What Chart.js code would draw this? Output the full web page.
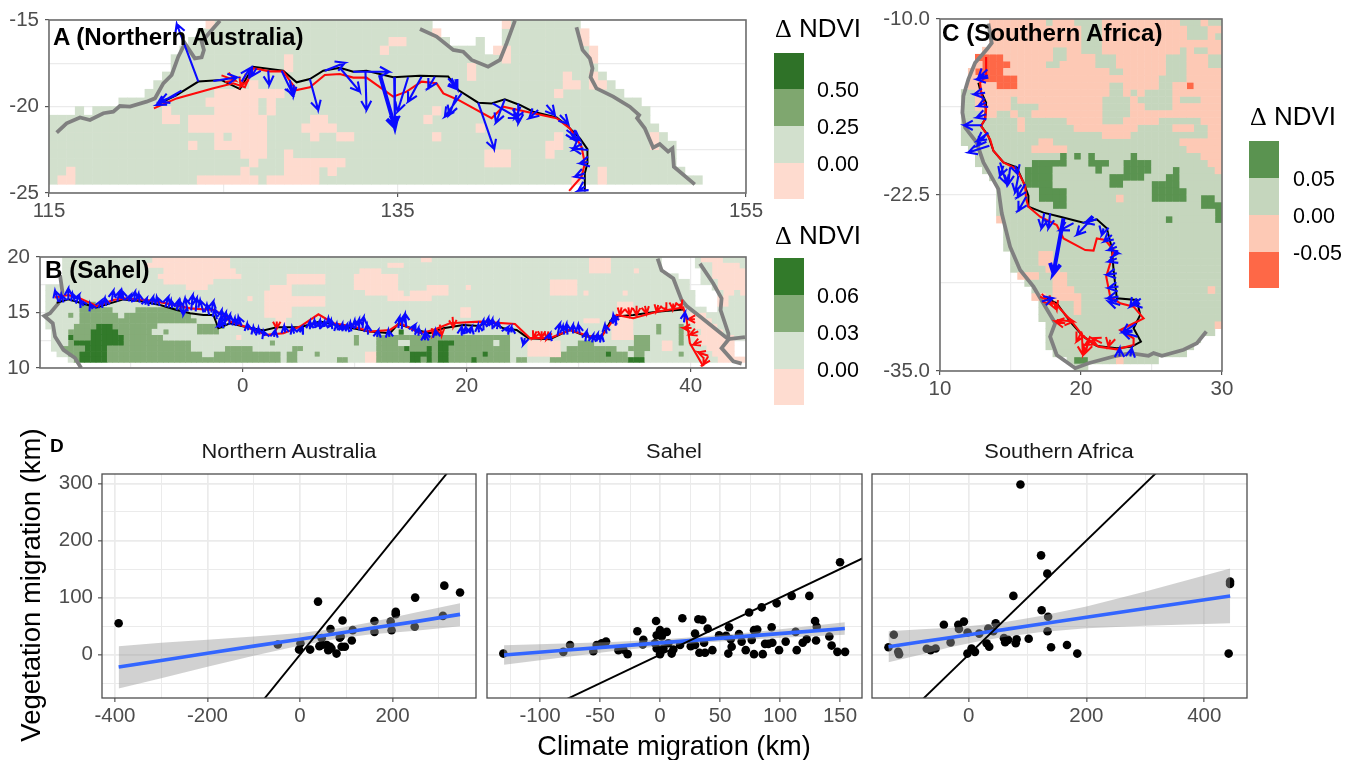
<!DOCTYPE html>
<html>
<head>
<meta charset="utf-8">
<title>Migration of climate and vegetation</title>
<script src="https://cdn.jsdelivr.net/npm/chart.js@4"></script>
<style>
    html, body { margin: 0; background: #fff; }
    #page { position: relative; width: 1350px; height: 760px; overflow: hidden; font-family: "Liberation Sans", Arial, sans-serif; filter: blur(0.35px); }
    canvas { position: absolute; }
    .txt { position: absolute; white-space: nowrap; line-height: 1; transform: translateY(-50%); }
    .tag { font-weight: bold; color: #000; font-size: 23px; transform: translateY(-50%) scaleX(1.05); transform-origin: left center; }
    .tagSmall { font-weight: bold; color: #000; font-size: 19px; }
    .legendTitle { font-size: 26px; color: #000; }
    .legendTitle span { font-family: "Liberation Serif", serif; font-weight: normal; }
    .legendLabel { font-size: 21.5px; color: #000; margin-top: 2px; }
    .strip { font-size: 19.5px; color: #1a1a1a; transform: translate(-50%, -50%) scaleX(1.12); }
    .swatch { position: absolute; }
</style>
</head>
<body>
<div id="page">
    <div class="txt legendTitle" style="left:775px;top:28px"><span>&#916;</span> NDVI</div>
    <div class="txt legendTitle" style="left:775px;top:235px"><span>&#916;</span> NDVI</div>
    <div class="txt legendTitle" style="left:1250px;top:116px"><span>&#916;</span> NDVI</div>
    <div class="txt strip" style="left:289px;top:452px">Northern Australia</div>
    <div class="txt strip" style="left:674px;top:452px">Sahel</div>
    <div class="txt strip" style="left:1059px;top:452px">Southern Africa</div>
    <div class="txt" style="left:674px;top:746px;font-size:27.2px;color:#000;transform:translate(-50%,-50%)">Climate migration (km)</div>
    <div class="txt" style="left:31px;top:585px;font-size:27.5px;color:#000;transform:translate(-50%,-50%) rotate(-90deg)">Vegetation migration (km)</div>
</div>

<script>
/* ----- Legend values ----- */
const ausLegendLabels = ['0.50', '0.25', '0.00'];
const sahelLegendLabels = ['0.06', '0.03', '0.00'];
const safLegendLabels = ['0.05', '0.00', '-0.05'];

/* ----- Panel A: Northern Australia (0.5 degree cells, row 0 at -15, col 0 at 115) ----- */
const ausLand = [
    [[18,43],[52,60]], [[17,44],[52,61]], [[16,45],[49,49],[52,61]], [[15,49],[51,62]], [[14,62]],
    [[14,62]], [[13,63]], [[12,64]], [[11,65]], [[8,67]],
    [[3,3],[5,68]], [[0,68]], [[0,69]], [[0,70]], [[0,71]],
    [[0,71]], [[0,71]], [[0,72]], [[0,74]]
];
const ausLow = [
    [0,18,18],[0,52,52],[1,44,44],[1,61,61],[2,39,40],[2,61,61],[3,38,38],[3,51,52],[3,62,62],[4,52,52],
    [4,27,27],[5,27,27],[4,62,62],[5,48,48],[6,48,48],[6,59,59],[6,62,62],[7,23,23],[7,59,60],[7,62,63],
    [8,19,26],[8,58,58],[9,18,23],[9,25,25],[10,19,23],[10,25,25],[10,13,13],[10,44,44],[11,13,14],
    [11,16,24],[11,30,31],[11,43,43],[12,16,24],[12,29,32],[12,49,49],[13,19,19],[13,21,24],[13,30,30],
    [13,33,34],[13,44,44],[13,58,58],[13,69,69],[14,16,16],[14,19,24],[14,57,58],[14,69,69],[15,22,24],
    [15,27,27],[15,50,52],[15,57,57],[16,23,23],[16,27,33],[16,50,52],[17,2,2],[17,22,22],[17,27,30],
    [17,32,32],[17,63,63],[18,1,2],[18,17,23],[18,25,30],[18,60,60],[18,63,63]
];
const ausCoastWest = [
    [115.44,-21.51],[116.01,-20.97],[116.78,-20.63],[117.35,-20.78],[118.12,-20.39],[118.69,-20.30],[119.07,-19.97],
    [119.65,-20.01],[120.60,-19.72],[121.08,-19.53],[121.56,-18.66],[122.04,-18.18],[122.42,-17.12],[122.80,-16.35],
    [123.37,-17.22],[123.76,-17.16],[123.89,-16.73],[123.76,-16.25],[124.43,-15.48],[124.81,-15.04]
];
const ausCoastGulf = [
    [136.29,-15.52],[137.24,-15.96],[138.2,-16.73],[138.77,-16.83],[139.25,-17.31],[140.2,-17.7],[140.88,-17.31],[141.26,-16.35],[141.74,-15.04]
];
const ausCoastEast = [
    [145.27,-15.42],[145.62,-16.73],[146.04,-17.22],[146.19,-17.79],[146.08,-18.31],[146.42,-18.95],[147.38,-19.43],[148.33,-20.01],
    [148.87,-20.49],[148.75,-20.68],[149.19,-21.26],[149.67,-22.38],[150.05,-22.17],[150.53,-22.61],[150.78,-22.42],[150.86,-23.48],[152.06,-24.5]
];
const ausVegLine = [
    [121.18,-19.91],[122.32,-19.34],[123.57,-18.56],[124.90,-18.47],[125.96,-18.99],[126.72,-17.70],[128.44,-17.93],[129.21,-18.60],
    [129.97,-18.41],[130.74,-17.93],[131.69,-17.76],[132.46,-17.99],[133.22,-17.93],[134.75,-18.31],[136.28,-18.22],[137.91,-18.26],
    [138.49,-19.05],[139.63,-19.78],[140.40,-19.82],[141.16,-19.59],[142.02,-19.91],[142.79,-20.30],[144.13,-20.63],[144.70,-21.07],
    [145.47,-21.84],[145.90,-22.46],[145.90,-23.29],[145.75,-23.86],[145.75,-24.92]
];
const ausClimLine = [
    [121.02,-20.11],[122.32,-19.53],[124.43,-18.95],[125.57,-18.66],[126.24,-18.89],[126.72,-17.79],[127.68,-17.97],[128.44,-17.97],
    [129.21,-19.05],[129.97,-18.89],[130.83,-18.18],[131.69,-18.12],[132.46,-18.33],[133.22,-18.33],[134.75,-19.43],[135.52,-19.14],
    [136.38,-18.56],[137.24,-18.66],[137.63,-19.24],[138.49,-19.62],[140.40,-20.68],[141.07,-20.01],[142.79,-20.39],[144.13,-20.68],
    [144.89,-21.26],[145.56,-22.32],[145.75,-23.29],[145.56,-24.06],[144.85,-24.88]
];
const ausBlueArrows = [
    [123.57,-18.56,122.33,-15.23],[122.61,-19.08,121.18,-19.91],[122.32,-19.34,121.37,-19.72],[124.43,-18.53,125.80,-18.31],
    [126.05,-18.56,126.53,-17.79],[126.91,-17.79,126.63,-18.24],[127.58,-17.93,127.64,-18.76],[128.35,-17.93,129.02,-19.34],
    [128.82,-18.47,129.02,-19.43],[129.97,-18.41,130.45,-20.20],[130.83,-17.93,131.98,-17.47],[131.69,-17.76,132.84,-19.14],
    [132.46,-17.99,134.52,-17.99],[133.16,-17.93,133.22,-20.20],[134.81,-18.31,134.85,-21.07],[135.61,-18.31,135.00,-20.30],
    [136.38,-18.28,135.61,-19.72],[137.14,-18.28,136.76,-18.95],[137.91,-18.37,138.43,-19.01],[138.10,-18.37,138.43,-19.01],
    [138.68,-19.24,137.72,-20.59],[138.39,-19.34,137.97,-20.49],[139.63,-19.78,140.55,-22.46],[141.16,-19.59,140.65,-20.93],
    [140.46,-19.82,141.93,-20.68],[141.93,-19.82,141.93,-20.97],[142.06,-20.01,141.74,-20.68],[143.07,-20.20,142.56,-20.68],
    [143.55,-19.91,144.03,-20.49],[144.32,-20.49,144.80,-21.01],[144.70,-21.36,145.47,-21.94],[144.89,-21.45,145.18,-21.94],
    [145.56,-22.13,145.08,-22.51],[145.94,-22.51,145.04,-22.42],[145.94,-23.19,145.47,-23.29],[145.75,-23.86,145.18,-24.06],[145.75,-24.63,145.37,-24.87]
];
const ausThickArrows = [[133.99,-18.18,134.85,-21.20]];
const ausRedArrows = [[124.9,-18.2,125.7,-18.5],[126.3,-18.1,126.0,-18.85]];

/* ----- Panel B: Sahel (row 0 at 20, col 0 at -18) ----- */
const sahelLand = [
    [[4,110],[117,125]], [[4,110],[117,125]], [[4,110],[118,125]], [[4,113],[118,125]], [[4,115],[118,125]],
    [[1,115],[120,125]], [[1,116],[121,125]], [[1,116],[121,125]], [[1,116],[121,125]], [[1,118],[121,125]],
    [[1,125]], [[1,125]], [[1,125]], [[2,125]], [[2,125]],
    [[2,123]], [[2,123]], [[3,123]], [[5,125]]
];
const sahelMid = [
    [8,7,9],[9,7,12],[9,17,25],[10,5,5],[10,7,13],[10,15,26],[11,7,27],[12,6,20],[12,28,32],[13,5,19],[13,22,22],[13,28,31],
    [14,5,21],[15,5,26],[16,4,26],[16,33,37],[17,5,28],[17,31,42],[17,44,45],[18,6,42],[18,44,45],[15,41,41],[16,45,46],
    [17,49,49],[18,53,54],[14,56,56],[15,56,56],[14,60,83],[15,60,63],[15,66,80],[15,82,83],[16,60,83],[17,60,83],[18,60,83],
    [18,85,86],[15,96,98],[16,94,98],[16,99,102],[17,93,104],[18,91,107],[14,106,108],[15,106,108],[16,105,108],[17,106,107],
    [12,110,110],[13,110,110],[12,114,114],[13,114,114],[14,114,114],[15,114,114],[17,114,114]
];
const sahelHigh = [
    [12,10,12],[13,9,13],[14,9,14],[14,5,5],[15,6,14],[16,8,11],[17,7,11],[18,7,11],[13,64,64],[16,65,65],[17,66,67],[18,66,67],
    [17,68,69],[16,69,69],[18,69,69],[15,71,73],[16,71,72],[17,71,72],[18,71,72],[17,79,79],[18,77,77],[17,101,101],[18,105,107]
];
const sahelLow = [
    [0,20,33],[1,19,33],[2,22,34],[3,21,35],[4,22,30],[5,26,29],[5,41,44],[6,40,44],[7,40,44],[8,40,44],[9,40,44],[10,40,44],
    [11,42,43],[12,42,43],[3,44,50],[4,44,50],[7,45,50],[8,45,50],[2,57,60],[3,56,63],[4,56,63],[5,56,63],[6,58,64],[7,62,66],
    [17,58,60],[18,58,60],[14,35,35],[7,37,37],[0,68,69],[1,62,64],[0,98,101],[1,98,101],[2,98,101],[4,91,95],[5,91,95],[6,91,95],
    [5,69,72],[6,66,72],[7,66,69],[9,75,76],[10,75,76],[5,76,76],[6,97,97],[2,106,106],[6,104,104],[8,103,105],[9,103,105],
    [10,103,105],[11,102,105],[12,102,105],[13,102,105],[14,102,105],[15,87,92],[16,87,92],[17,87,92],[15,111,112],[16,111,112],
    [11,97,99],[10,116,118],[11,116,119],[12,117,120],[13,118,121],[14,117,123],[15,118,123],[16,119,123],[17,120,123],[18,121,125],
    [0,118,121],[1,120,124],[2,120,124],[3,120,124],[4,121,124],[5,121,124],[6,122,123],[2,125,125],[3,125,125],[4,125,125],
    [5,125,125],[6,125,125],[7,121,122],[8,121,122]
];
const sahelCoastWest = [
    [-16.31,18.36],[-16.10,16.87],[-16.46,15.82],[-17.20,14.93],[-17.71,14.69],[-16.96,14.03],[-16.76,12.84],[-16.01,11.64],[-14.97,10.90],[-14.43,10.0]
];
const sahelCoastRed = [
    [37.05,19.85],[37.40,18.81],[38.45,18.06],[39.19,16.12],[39.64,15.58],[40.83,14.63],[43.06,12.84],[43.36,12.60],[44.85,12.78]
];
const sahelCoastArabia = [
    [40.83,19.40],[42.02,17.61],[42.76,16.27],[42.67,15.22],[43.36,13.13],[43.36,12.54],[42.76,11.79],[43.80,10.60],[44.55,10.39]
];
const sahelVegLine = [
    [-16.61,15.88],[-15.57,16.18],[-14.52,15.88],[-13.04,15.46],[-11.85,15.82],[-10.65,16.18],[-9.17,16.03],[-7.38,15.67],[-5.89,15.22],
    [-4.70,14.93],[-3.51,14.78],[-2.62,14.78],[-2.17,13.58],[-1.13,14.03],[0.36,13.67],[1.85,13.37],[3.04,13.67],[5.12,13.67],[6.90,14.18],
    [8.99,13.73],[11.37,13.28],[13.15,13.13],[13.90,13.97],[15.53,13.43],[16.72,13.13],[17.91,13.58],[19.69,13.88],[21.18,13.79],[21.93,14.33],
    [23.27,13.58],[24.46,13.43],[25.50,12.69],[27.43,12.60],[29.22,13.43],[30.71,12.84],[32.05,12.84],[33.09,14.63],[34.87,14.78],[36.96,15.07],[39.34,15.28]
];
const sahelClimLine = [
    [-16.76,16.36],[-15.57,16.57],[-14.52,16.27],[-13.04,15.58],[-11.55,16.12],[-10.65,16.27],[-8.57,16.12],[-6.79,15.82],[-4.70,15.37],
    [-2.62,15.22],[-1.73,14.78],[-1.13,14.18],[0.36,13.67],[2.14,12.99],[3.63,13.13],[5.12,13.73],[6.76,14.84],[8.10,14.03],[9.88,13.73],
    [11.37,13.28],[13.15,13.43],[14.05,14.03],[15.83,13.13],[17.02,13.43],[18.50,14.03],[21.18,14.18],[24.31,13.97],[25.65,12.69],[27.43,12.69],
    [29.22,13.43],[31.0,12.84],[32.05,12.84],[33.39,14.78],[34.87,14.48],[36.96,15.07],[39.34,15.46],[39.64,14.33],[39.93,12.24],[41.12,10.15]
];
const sahelBlueArrows = [
    [-16.46,15.97,-16.76,16.96],[-15.57,16.12,-15.57,17.16],[-16.0,15.9,-16.2,16.6],[-14.2,15.6,-14.5,16.1],[-13.4,15.3,-13.63,15.8],
    [-12.9,15.4,-12.59,16.1],[-11.7,16.0,-11.55,16.96],[-10.6,16.1,-10.8,16.96],[-9.7,15.95,-9.61,16.87],[-8.7,15.7,-8.57,16.27],
    [-7.4,15.6,-7.68,16.4],[-6.9,15.5,-6.64,16.4],[-5.9,15.2,-5.74,16.1],[-4.9,15.1,-5.15,16.27],[-5.3,15.7,-5.3,14.8],[-4.6,15.2,-4.46,16.57],
    [-3.5,15.0,-3.8,16.1],[-2.8,15.0,-2.62,16.0],[-2.0,13.7,-1.88,15.2],[-1.7,13.6,-2.0,14.3],[-1.2,13.9,-1.13,14.8],[-0.1,13.8,-0.39,14.6],
    [1.1,13.1,0.95,13.7],[2.0,12.9,1.85,13.3],[2.8,12.8,2.9,13.4],[4.6,13.1,4.4,13.7],[5.1,13.2,5.3,13.7],[6.0,13.5,6.0,14.2],[6.9,13.5,6.9,14.3],
    [7.8,13.7,7.65,14.5],[8.5,13.4,8.4,14.0],[9.2,13.3,9.3,13.9],[10.1,13.6,10.0,14.3],[10.7,13.6,10.8,14.6],[12.0,12.8,12.1,13.4],[13.1,12.8,13.0,13.4],
    [13.9,13.6,14.0,14.6],[14.6,13.7,14.5,14.9],[15.1,13.3,15.4,13.9],[16.4,12.7,16.3,13.3],[16.27,12.5,16.27,13.1],[19.5,13.0,19.55,13.7],
    [20.3,13.1,20.44,13.7],[21.1,13.2,21.03,13.9],[21.9,13.8,21.93,14.5],[22.7,13.5,22.82,14.2],[23.5,13.3,23.71,13.7],[25.2,12.7,25.05,12.1],
    [27.3,12.6,27.43,13.1],[28.1,12.9,28.33,14.0],[29.0,13.0,28.92,14.0],[30.1,13.1,29.96,13.9],[30.6,12.4,30.71,13.3],[31.2,12.3,31.3,13.0],
    [31.9,12.3,32.05,13.0],[32.5,13.1,32.34,13.9],[33.4,13.9,33.09,14.8],[33.0,14.0,33.39,14.5],[39.4,14.1,39.5,15.0],
    [-15.0,16.0,-15.2,16.7],[-14.9,15.8,-14.6,16.6],[-12.2,15.6,-12.3,16.3],[-11.2,16.0,-11.0,16.9],[-10.2,16.0,-10.0,16.6],[-9.2,15.9,-9.3,16.7],
    [-8.1,15.7,-8.0,16.4],[-6.3,15.4,-6.4,16.1],[-5.5,15.1,-5.6,16.0],[-4.2,15.1,-4.1,16.3],[-3.0,14.8,-3.2,15.7],[-2.3,14.4,-2.5,15.3],[-1.6,13.9,-1.5,15.0],
    [-1.5,14.6,-2.2,13.8],[-0.6,13.8,-0.7,14.5],[0.5,13.4,0.4,14.0],[1.5,13.0,1.4,13.6],[3.8,13.2,3.7,13.8],[6.5,13.6,6.4,14.3],[7.3,13.7,7.3,14.2],
    [8.0,13.5,7.9,14.3],[8.9,13.3,8.9,14.0],[9.7,13.3,9.6,14.1],[10.4,13.4,10.4,14.4],[11.2,13.0,11.1,13.9],[14.2,13.5,14.3,14.6],[15.7,12.9,15.7,13.6],
    [17.3,12.9,17.2,13.4],[20.0,13.1,19.9,13.7],[21.5,13.4,21.5,14.3],[22.3,13.5,22.3,14.4],[24.0,13.2,24.0,13.7],[28.7,13.0,28.6,13.8],[29.5,13.1,29.5,13.9],
    [31.6,12.4,31.7,13.1]
];
const sahelRedArrows = [
    [3.04,14.2,3.04,13.55],[17.2,13.5,17.0,12.9],[17.6,13.9,17.76,12.9],[18.74,14.6,18.8,13.7],[26.24,13.3,25.94,12.7],[26.69,13.3,26.69,12.7],
    [27.3,13.3,27.13,12.6],[33.83,15.46,33.68,14.78],[34.43,15.46,34.57,14.78],[35.17,15.6,35.17,14.78],[35.92,15.6,36.07,14.9],[37.1,15.67,36.96,15.07],
    [37.7,15.46,37.85,15.22],[38.44,15.8,38.44,15.28],[39.04,15.8,39.19,15.46],[40.38,14.4,39.78,14.4],[40.08,13.6,39.34,13.6],[40.68,13.3,39.93,13.0],
    [40.98,12.4,40.23,12.1],[41.57,11.1,40.68,11.4],[41.57,11.05,41.12,10.3]
];

/* ----- Panel C: Southern Africa (row 0 at -10, col 0 at 10) ----- */
const safLand = [
    [7,39],[7,39],[7,39],[7,39],[6,39],[5,39],[5,39],[4,39],[4,39],[4,39],
    [3,39],[3,39],[3,39],[3,39],[3,39],[3,39],[3,39],[3,39],[4,39],[5,39],
    [5,39],[6,39],[7,39],[8,39],[8,39],[8,39],[8,39],[8,39],[8,39],[9,39],
    [9,39],[9,39],[9,39],[10,39],[10,39],[10,39],[11,39],[12,39],[13,39],[13,39],
    [14,39],[14,39],[14,39],[15,39],[15,38],[15,36],[15,35],[16,34],[18,30],[19,20]
];
const safLow = [
    [0,0,39],[1,0,39],[2,0,39],[3,0,39],[4,0,39],[5,0,39],[6,0,39],[7,0,39],[8,0,39],[9,0,39],[10,0,39],[11,0,39],[12,0,39],[13,0,39],
    [14,11,11],[14,18,22],[14,26,30],[14,37,39],[15,11,11],[15,19,27],[15,33,35],[15,38,39],[16,23,26],[16,38,39],[17,14,15],[17,34,39],
    [18,13,17],[18,35,39],[19,37,39],[20,38,39],[21,39,39],[25,25,25],[28,8,8],[33,14,15],[34,14,15],[35,15,16],[36,11,13],[36,16,17],
    [37,16,17],[38,16,18],[38,38,38],[39,13,14],[39,16,19],[40,19,19],[41,19,19],[43,39,39],[48,25,25]
];
const safMidOverLow = [
    [0,15,15],[0,19,22],[0,34,36],[0,38,39],[1,20,22],[1,35,37],[2,20,22],[2,35,37],[2,39,39],[3,20,22],[4,20,22],[4,16,17],[5,16,17],[6,15,16],
    [5,22,24],[6,22,24],[7,24,25],[4,34,34],[4,36,37],[5,38,39],[6,38,39],[5,32,34],[6,32,34],[7,32,34],[8,31,34],[9,31,32],[9,24,25],[10,24,25],
    [10,27,27],[11,28,28],[10,29,32],[11,29,32],[12,29,32],[11,23,26],[12,23,26],[13,23,26],[11,34,36],[11,10,10],[12,10,13],[13,11,12],[13,8,9],
    [10,3,4],[11,3,4],[12,3,4],[13,3,5]
];
const safVeryLow = [[5,5,8],[6,6,9],[7,5,8],[8,6,10],[9,8,10],[9,35,35]];
const safHigh = [
    [19,17,17],[19,19,19],[19,21,21],[19,27,27],[20,13,17],[20,21,23],[20,26,29],[21,12,15],[21,22,22],[21,26,29],[21,33,33],[22,12,15],
    [22,24,28],[22,32,33],[23,12,15],[23,24,25],[23,30,33],[24,14,17],[24,30,34],[25,14,17],[25,30,34],[25,37,38],[26,16,17],[26,37,39],
    [27,39,39],[28,32,32],[28,39,39],[48,19,20]
];
const safCoast = [
    [13.43,-10.33],[13.67,-11.70],[13.31,-12.17],[12.49,-13.11],[12.01,-14.29],[11.66,-15.47],[11.59,-16.65],[11.78,-17.71],[12.60,-18.77],[13.08,-20.19],
    [14.14,-22.08],[14.38,-23.80],[14.97,-26.17],[15.68,-27.83],[16.63,-29.01],[18.17,-31.61],[17.81,-32.56],[18.28,-33.86],[19.59,-34.80],[20.53,-34.45],
    [22.31,-33.97],[23.49,-33.73],[24.79,-33.92],[25.15,-33.73],[25.74,-33.92],[27.28,-33.49],[28.22,-33.02],[28.89,-32.19]
];
const safVegLine = [
    [12.72,-14.53],[12.84,-15.0],[13.27,-15.94],[13.20,-17.12],[12.91,-17.59],[13.43,-18.30],[13.79,-19.36],[14.50,-20.19],[15.44,-20.54],[15.92,-21.60],
    [16.27,-22.55],[16.27,-23.33],[17.34,-23.75],[18.52,-24.04],[20.18,-24.46],[21.12,-24.23],[21.83,-24.87],[22.19,-26.29],[22.31,-27.83],[22.54,-29.84],
    [23.96,-29.96],[24.20,-31.02],[23.73,-31.97],[24.25,-32.92],[23.61,-33.27],[22.54,-33.39],[21.12,-33.22],[20.18,-32.56],[19.23,-31.50],[18.28,-30.19],[17.57,-29.84]
];
const safClimLine = [
    [13.27,-12.69],[13.27,-14.06],[12.84,-14.53],[12.96,-15.47],[13.27,-16.42],[13.20,-17.12],[12.91,-17.59],[13.55,-18.54],[13.79,-19.36],[14.50,-20.19],
    [15.44,-20.66],[16.04,-21.84],[16.11,-22.78],[16.27,-23.33],[17.10,-24.04],[18.28,-24.63],[18.76,-25.58],[20.30,-26.41],[20.89,-26.45],[21.12,-25.58],
    [21.72,-25.70],[22.31,-26.41],[22.07,-27.35],[21.79,-28.30],[22.07,-29.72],[22.78,-30.19],[23.73,-30.43],[24.44,-31.26],[23.49,-31.73],[22.78,-32.09],
    [23.73,-32.68],[23.73,-33.15],[22.54,-33.46],[21.24,-33.27],[20.18,-32.56],[19.35,-31.50],[18.28,-30.31],[17.10,-29.72]
];
const safBlueArrows = [
    [13.43,-14.17,12.60,-14.29],[13.36,-13.59,12.72,-14.17],[13.2,-15.24,12.41,-15.35],[13.27,-15.94,12.72,-16.18],[13.27,-16.77,12.60,-17.0],
    [12.96,-17.55,11.71,-17.55],[13.43,-18.07,12.65,-18.66],[13.2,-18.3,12.65,-19.0],[13.5,-19.0,12.01,-19.48],[14.26,-20.19,14.73,-21.72],
    [14.5,-20.42,14.26,-21.13],[14.97,-20.54,14.85,-21.72],[15.33,-20.42,15.5,-21.0],[15.56,-21.13,15.33,-22.31],[16.04,-21.72,15.5,-22.66],
    [16.11,-22.62,15.56,-23.61],[17.39,-23.80,17.2,-24.87],[17.81,-23.8,17.69,-24.87],[19.47,-24.5,18.52,-25],[20.89,-24.04,19.7,-25.34],
    [21.12,-24.23,20.3,-24.46],[21.6,-24.87,21.48,-25.34],[22.19,-25.34,21.64,-25.81],[22.54,-26.17,21.95,-26.41],[22.31,-26.64,22.66,-26.64],
    [22.54,-27.0,21.95,-27.24],[22.54,-28.06,21.83,-28.18],[22.66,-29.0,21.95,-29.12],[22.66,-29.72,21.88,-29.84],[22.78,-30.31,21.95,-30.07],
    [23.96,-29.84,23.49,-30.43],[24.2,-30.2,23.7,-30.3],[23.9,-31.66,22.96,-32.25],[24.0,-32.56,22.96,-32.25],[22.73,-33.97,22.73,-33.39],
    [23.5,-33.97,23.6,-33.39],[17.22,-30.07,18.0,-29.83]
];
const safThickArrows = [[18.76,-24.16,18.05,-28.06]];
const safRedArrows = [
    [17.22,-29.52,17.93,-30.3],[18.05,-30.07,18.28,-30.66],[18.28,-31.37,19.47,-31.48],[18.88,-31.6,18.17,-31.48],[20.06,-32.19,19.7,-32.9],
    [20.06,-32.31,20.13,-33.85],[20.65,-32.55,20.3,-33.73],[21.12,-32.67,20.3,-33.14],[22.07,-32.78,21.95,-33.26],[21.48,-33.02,20.77,-32.67]
];

/* ----- Panel D: climate migration vs vegetation migration ----- */
const ausClimate = [-392,39,312,346,249,207,207,92,161,196,198,161,248,309,114,66,86,112,97,90,79,61,68,58,47,42,47,88,22,-2,1,-48,65];
const ausVegetation = [55,93,121,109,100,75,71,60,59,58,43,40,49,68,43,45,30,25,14,14,2,8,11,17,17,15,29,32,9,9,20,18,14];
const ausFitX = [-392,-300,-200,-100,0,80,150,250,346];
const ausFitY = [-21.6,-10,2.6,15,27.2,37,46,58,70.7];
const ausFitUpper = [15,21,26,32,38,46,56.5,74,90];
const ausFitLower = [-59,-41,-21,-2,16,28,35.5,42,50];

const sahelClimate = [
    -130.6,-80.6,-75,-55.6,-52.8,-48.6,-45,-34.7,-30.6,-27,-18.9,-13.9,-14.4,-3.3,-2.8,0,5.6,1.4,-4.2,-2.8,0,2.8,6.9,9.7,11.1,16.7,18.6,31.9,35.3,29.2,25.6,29.2,36.7,
    32.8,37.5,43.6,39.7,49.2,55,57.5,58.9,59.7,56.9,65.8,68,71.4,74.2,76.4,78.3,81,78.3,84.7,85.6,87.5,90.3,93,93.6,97.2,99.2,104.7,109.7,113,113.9,118.9,122.2,124.4,
    129.2,130.6,130,141.1,143,147.8,150,154.2
];
const sahelVegetation = [
    2,5,17,6,17,20,23,8,9,1,41,26,18,59,34,43,40,32,20,11,1,11,20,2,9,17,64,62,61,37,15,17,21,
    3.5,3.5,8,46,34,33,48,27,14,2,36,23,8,74,26,43,44,1,83,1,19,19,48,21,90,8,23,103,40,8,21,27,103,
    59,49,25,32,16,5,162,5
];
const sahelFitX = [-130,-80,-40,0,30,70,110,154];
const sahelFitY = [-0.5,7.7,14.2,20.7,25.6,32.2,38.7,45.9];
const sahelFitUpper = [16.5,19.7,22.2,26.7,31.1,38.2,46.7,56.9];
const sahelFitLower = [-17.5,-4.3,6.2,14.7,20.1,26.2,30.7,34.9];

const safClimate = [
    -136,-127,-119.5,-118,-71,-64.5,-56,-42,-30.6,-17.5,-16.4,-8,-1.7,-2,5,10.8,18,30.6,35,33.4,42,46,60,62,67,80,81.5,76,88,102,123,124,133.6,135,134,140,167,184.5,441.5,443.8,443.8
];
const safVegetation = [
    13,35,5,1,10.5,8,11,52.5,21.6,52.5,45,58,39,2,11,5,37,20,14,46,41,55,29,22,26,20,27,103,298,28,174,78,142,66.5,41,13,17,2,2,128,124
];
const safFitX = [-136,-80,-30,20,60,120,200,300,444];
const safFitY = [14,22.6,30.3,37.9,44,53.3,65.5,80.9,103];
const safFitUpper = [41,44.6,47.3,51.9,57,67.3,84.5,110.9,151];
const safFitLower = [-13,0.6,13.3,23.9,31,39.3,46.5,50.9,55];

const identityLine = [-500, 500];

/* ----- Axis ticks ----- */
const ausLonMajor = [115, 135, 155];
const ausLonGrid = [115, 125, 135, 145, 155];
const ausLatMajor = [-15, -20, -25];
const ausLatGrid = [-15, -17.5, -20, -22.5, -25];
const sahelLonMajor = [0, 20, 40];
const sahelLonGrid = [-10, 0, 10, 20, 30, 40];
const sahelLatMajor = [10, 15, 20];
const sahelLatGrid = [10, 12.5, 15, 17.5, 20];
const safLonMajor = [10, 20, 30];
const safLonGrid = [10, 15, 20, 25, 30];
const safLatMajor = [-10, -22.5, -35];
const safLatGrid = [-10, -16.25, -22.5, -28.75, -35];
const migYMajor = [0, 100, 200, 300];
const migYGrid = [-50, 0, 50, 100, 150, 200, 250, 300];
const ausMigXMajor = [-400, -200, 0, 200];
const ausMigXGrid = [-400, -300, -200, -100, 0, 100, 200, 300];
const sahelMigXMajor = [-100, -50, 0, 50, 100, 150];
const sahelMigXGrid = [-125, -100, -75, -50, -25, 0, 25, 50, 75, 100, 125, 150];
const safMigXMajor = [0, 200, 400];
const safMigXGrid = [-100, 0, 100, 200, 300, 400];

/* ----- Colours ----- */
const GREY_COAST = '#808080';
const BLUE_ARROW = '#0a0aff';
const RED_LINE = '#ff0a0a';
const FIT_BLUE = '#3366ff';
const RIBBON = 'rgba(153, 153, 153, 0.45)';
const GRID = '#ebebeb';
const AXIS_TEXT = '#4d4d4d';
const TICK_FONT = { family: "'Liberation Sans', Arial, sans-serif", size: 20.5 };

const ausColors = { high: '#2f7228', mid: '#7fa76f', base: '#d2e0cd', low: '#fedbcf' };
const sahelColors = { high: '#327a2a', mid: '#85ac78', base: '#d6e3d2', low: '#fedcd0' };
const safColors = { high: '#5a9350', base: '#c5d6bd', low: '#fdc9b5', veryLow: '#fe6847' };

const page = document.getElementById('page');

/* ----- Helpers ----- */
function toXY(pairs) {
    return pairs.map(([x, y]) => ({ x, y }));
}

function zipXY(xs, ys) {
    return xs.map((x, i) => ({ x, y: ys[i] }));
}

// expands land rows and [row, from, to] runs into cell centres grouped by colour
function buildCells(landRows, layers, lon0, lat0, step) {
    const grid = new Map();
    landRows.forEach((runs, r) => {
        const list = Array.isArray(runs[0]) ? runs : [runs];
        list.forEach(([a, b]) => {
            for (let c = a; c <= b; c++) grid.set(r + ':' + c, 'base');
        });
    });
    layers.forEach(([cls, runs]) => {
        runs.forEach(([r, a, b]) => {
            for (let c = a; c <= b; c++) {
                if (grid.has(r + ':' + c)) grid.set(r + ':' + c, cls);
            }
        });
    });
    const out = {};
    grid.forEach((cls, key) => {
        const [r, c] = key.split(':').map(Number);
        (out[cls] = out[cls] || []).push({ x: lon0 + (c + 0.5) * step, y: lat0 - (r + 0.5) * step });
    });
    return out;
}

function cellDatasets(cells, colors, side) {
    return Object.keys(cells).map(cls => ({
        type: 'scatter',
        data: cells[cls],
        pointStyle: 'rect',
        pointRadius: (side + 0.5) * Math.SQRT1_2,
        pointBorderWidth: 0,
        backgroundColor: colors[cls],
        order: 50
    }));
}

function lineSet(data, color, width, order) {
    return {
        type: 'line',
        data,
        borderColor: color,
        borderWidth: width,
        pointRadius: 0,
        tension: 0,
        fill: false,
        order
    };
}

// arrow as a polyline in map degrees: tail, tip, barb, tip, barb, gap
function arrowPath(arrows, head) {
    const pts = [];
    arrows.forEach(([x0, y0, x1, y1]) => {
        const a = Math.atan2(y1 - y0, x1 - x0);
        pts.push({ x: x0, y: y0 }, { x: x1, y: y1 });
        pts.push({ x: x1 - head * Math.cos(a - 0.5), y: y1 - head * Math.sin(a - 0.5) });
        pts.push({ x: x1, y: y1 });
        pts.push({ x: x1 - head * Math.cos(a + 0.5), y: y1 - head * Math.sin(a + 0.5) });
        pts.push({ x: null, y: null });
    });
    return pts;
}

const boxBorder = (color, width) => ({
    id: 'boxBorder',
    afterDatasetsDraw(chart) {
        const { left, top, right, bottom } = chart.chartArea;
        const ctx = chart.ctx;
        ctx.save();
        ctx.strokeStyle = color;
        ctx.lineWidth = width;
        ctx.strokeRect(left, top, right - left, bottom - top);
        ctx.restore();
    }
});

function axisOptions(a) {
    return {
        type: 'linear',
        min: a.range[0],
        max: a.range[1],
        afterBuildTicks: ax => { ax.ticks = a.grid.map(v => ({ value: v })); },
        afterFit: ax => {
            if (ax.isHorizontal()) ax.height = a.size; else ax.width = a.size;
        },
        border: { display: false },
        grid: {
            color: GRID,
            tickLength: 4,
            lineWidth: c => a.majors.includes(c.tick.value) ? a.lineMajor : a.lineMinor,
            tickColor: c => (a.show && a.majors.includes(c.tick.value)) ? '#555' : 'rgba(0,0,0,0)',
            tickWidth: 1.2
        },
        ticks: {
            autoSkip: false,
            maxRotation: 0,
            minRotation: 0,
            color: AXIS_TEXT,
            font: TICK_FONT,
            padding: a.padding,
            callback: v => (a.show && a.majors.includes(v)) ? a.format(v) : ''
        }
    };
}

function makePanel(cfg) {
    const [L, T, R, B] = cfg.box;
    const yw = 62, xh = 36, topPad = 22, rightPad = 26;
    const canvas = document.createElement('canvas');
    canvas.width = R - L + yw + rightPad;
    canvas.height = B - T + topPad + xh;
    canvas.style.left = (L - yw) + 'px';
    canvas.style.top = (T - topPad) + 'px';
    page.appendChild(canvas);
    new Chart(canvas, {
        type: 'scatter',
        data: { datasets: cfg.datasets },
        options: {
            responsive: false,
            animation: false,
            events: [],
            layout: { padding: { left: 0, top: topPad, right: rightPad, bottom: 0 } },
            plugins: { legend: { display: false }, tooltip: { enabled: false } },
            scales: {
                x: axisOptions({ range: cfg.xRange, grid: cfg.xGrid, majors: cfg.xMajor, size: xh, show: true, lineMajor: cfg.gridMajor, lineMinor: cfg.gridMinor, padding: 2, format: String }),
                y: axisOptions({ range: cfg.yRange, grid: cfg.yGrid, majors: cfg.yMajor, size: yw, show: cfg.yLabels !== false, lineMajor: cfg.gridMajor, lineMinor: cfg.gridMinor, padding: cfg.yPad || 5, format: cfg.yFormat || String })
            }
        },
        plugins: [boxBorder(cfg.border, cfg.borderWidth)]
    });
}

function mapPanel(cfg) {
    const sets = [];
    cfg.coasts.forEach(c => sets.push(lineSet(toXY(c), GREY_COAST, 3.8, 40)));
    sets.push(lineSet(toXY(cfg.veg), '#000', 2, 30));
    sets.push(lineSet(toXY(cfg.clim), RED_LINE, 2.1, 25));
    sets.push(lineSet(arrowPath(cfg.red, cfg.head), RED_LINE, 2, 22));
    sets.push(lineSet(arrowPath(cfg.blue, cfg.head), BLUE_ARROW, 2.1, 15));
    if (cfg.thick) sets.push(lineSet(arrowPath(cfg.thick, cfg.head * 1.1), BLUE_ARROW, 4, 10));
    makePanel({
        box: cfg.box, xRange: cfg.xRange, yRange: cfg.yRange, yFormat: cfg.yFormat, yPad: 6,
        xGrid: cfg.xGrid, xMajor: cfg.xMajor, yGrid: cfg.yGrid, yMajor: cfg.yMajor,
        gridMajor: 1.2, gridMinor: 1.2, border: '#6e6e6e', borderWidth: 1.6,
        datasets: cfg.cells.concat(sets)
    });
}

function migrationPanel(cfg) {
    const upper = lineSet(zipXY(cfg.fitX, cfg.upper), 'rgba(0,0,0,0)', 0, 8);
    upper.fill = '+1';
    upper.backgroundColor = RIBBON;
    const lower = lineSet(zipXY(cfg.fitX, cfg.lower), 'rgba(0,0,0,0)', 0, 8);
    makePanel({
        box: cfg.box, xRange: cfg.xRange, yRange: [-75.8, 316.5],
        xGrid: cfg.xGrid, xMajor: cfg.xMajor, yGrid: migYGrid, yMajor: migYMajor,
        yLabels: cfg.yLabels, gridMajor: 1.7, gridMinor: 1, border: '#4d4d4d', borderWidth: 1.3,
        datasets: [
            { type: 'scatter', data: zipXY(cfg.climate, cfg.vegetation), pointRadius: 4.3, pointBorderWidth: 0, backgroundColor: '#000', order: 10 },
            upper,
            lower,
            lineSet(zipXY(identityLine, identityLine), '#000', 1.9, 2),
            lineSet(zipXY(cfg.fitX, cfg.fitY), FIT_BLUE, 3.6, 4)
        ]
    });
}

function addText(text, cls, left, top) {
    const el = document.createElement('div');
    el.className = 'txt ' + cls;
    el.textContent = text;
    el.style.left = left + 'px';
    el.style.top = top + 'px';
    page.appendChild(el);
}

function addLegend(left, edges, colors, labels, labelLeft) {
    colors.forEach((col, i) => {
        const sw = document.createElement('div');
        sw.className = 'swatch';
        sw.style.cssText = `left:${left}px;width:30px;top:${edges[i]}px;height:${edges[i + 1] - edges[i]}px;background:${col}`;
        page.appendChild(sw);
    });
    labels.forEach((lab, i) => addText(lab, 'legendLabel', labelLeft, edges[i + 1]));
}

/* ----- Build page ----- */
mapPanel({
    box: [49, 20, 746, 193], xRange: [115, 155], yRange: [-25, -15], head: 0.6,
    xGrid: ausLonGrid, xMajor: ausLonMajor, yGrid: ausLatGrid, yMajor: ausLatMajor,
    cells: cellDatasets(buildCells(ausLand, [['low', ausLow]], 115, -15, 0.5), ausColors, 8.7),
    coasts: [ausCoastWest, ausCoastGulf, ausCoastEast],
    veg: ausVegLine, clim: ausClimLine, red: ausRedArrows, blue: ausBlueArrows, thick: ausThickArrows
});

mapPanel({
    box: [40, 257, 746, 368], xRange: [-18.1, 44.94], yRange: [10, 20], head: 0.7,
    xGrid: sahelLonGrid, xMajor: sahelLonMajor, yGrid: sahelLatGrid, yMajor: sahelLatMajor,
    cells: cellDatasets(buildCells(sahelLand, [['low', sahelLow], ['mid', sahelMid], ['high', sahelHigh]], -18.1, 20, 0.5), sahelColors, 5.6),
    coasts: [sahelCoastWest, sahelCoastRed, sahelCoastArabia],
    veg: sahelVegLine, clim: sahelClimLine, red: sahelRedArrows, blue: sahelBlueArrows
});

mapPanel({
    box: [940, 19, 1222, 371], xRange: [10, 30], yRange: [-35, -10], head: 0.7, yFormat: v => v.toFixed(1),
    xGrid: safLonGrid, xMajor: safLonMajor, yGrid: safLatGrid, yMajor: safLatMajor,
    cells: cellDatasets(buildCells(safLand, [['low', safLow], ['base', safMidOverLow], ['veryLow', safVeryLow], ['high', safHigh]], 10, -10, 0.5), safColors, 7.05),
    coasts: [safCoast],
    veg: safVegLine, clim: safClimLine, red: safRedArrows, blue: safBlueArrows, thick: safThickArrows
});

migrationPanel({
    box: [102, 474, 476, 698], xRange: [-428, 380.5], xGrid: ausMigXGrid, xMajor: ausMigXMajor,
    climate: ausClimate, vegetation: ausVegetation,
    fitX: ausFitX, fitY: ausFitY, upper: ausFitUpper, lower: ausFitLower
});

migrationPanel({
    box: [487, 474, 862, 698], xRange: [-144.2, 168.3], xGrid: sahelMigXGrid, xMajor: sahelMigXMajor, yLabels: false,
    climate: sahelClimate, vegetation: sahelVegetation,
    fitX: sahelFitX, fitY: sahelFitY, upper: sahelFitUpper, lower: sahelFitLower
});

migrationPanel({
    box: [872, 474, 1247, 698], xRange: [-164, 472.6], xGrid: safMigXGrid, xMajor: safMigXMajor, yLabels: false,
    climate: safClimate, vegetation: safVegetation,
    fitX: safFitX, fitY: safFitY, upper: safFitUpper, lower: safFitLower
});

/* ----- Legends and panel tags sit above the canvases ----- */
addLegend(774, [53, 89, 126, 163, 199], [ausColors.high, ausColors.mid, ausColors.base, ausColors.low], ausLegendLabels, 817);
addLegend(774, [258, 295, 332, 369, 405], [sahelColors.high, sahelColors.mid, sahelColors.base, sahelColors.low], sahelLegendLabels, 817);
addLegend(1249, [141, 178, 215, 252, 288], [safColors.high, safColors.base, safColors.low, safColors.veryLow], safLegendLabels, 1293);

addText('A (Northern Australia)', 'tag', 53, 37);
addText('B (Sahel)', 'tag', 45, 270);
addText('C (Southern Africa)', 'tag', 942, 33);
addText('D', 'tagSmall', 50, 445);
</script>
</body>
</html>
